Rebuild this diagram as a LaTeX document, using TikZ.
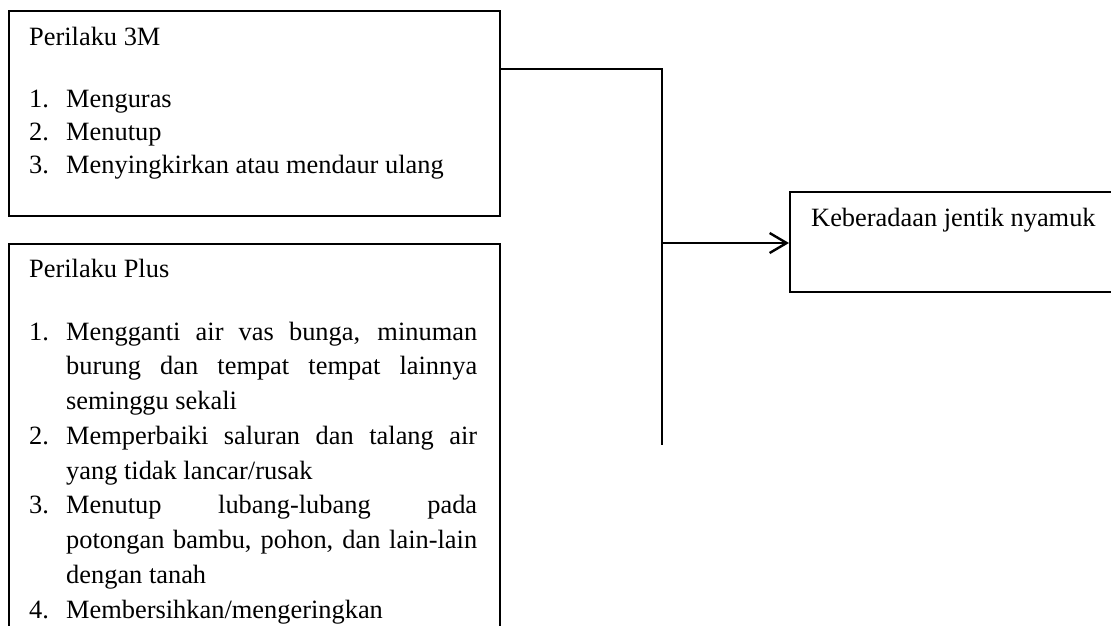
\documentclass[tikz,border=0pt]{standalone}
\usepackage{fontspec}
\setmainfont{Liberation Serif}
\usepackage{graphicx}
\usetikzlibrary{arrows.meta}
\tikzset{
  box/.style={draw=black, line width=1.5pt, inner sep=0pt, anchor=north west, fill=none},
  txt/.style={anchor=base west, inner sep=0pt, font=\fontsize{26.4}{33}\selectfont},
  conn/.style={draw=black, line width=1.8pt},
  arr/.style={draw=black, line width=2.6pt, -{Straight Barb[length=17pt,width=20pt,line width=2.4pt]}}
}
\newcommand{\numl}[2]{\makebox[37pt][l]{#1}\makebox[411pt][s]{#2}}
\newcommand{\numlast}[2]{\makebox[37pt][l]{#1}#2}
\newcommand{\contj}[1]{\hspace*{37pt}\makebox[411pt][s]{#1}}
\newcommand{\contlast}[1]{\hspace*{37pt}#1}
\begin{document}
\begin{tikzpicture}[x=1pt, y=-1pt]
\useasboundingbox (0,0) rectangle (1111,625);
\clip (0,0) rectangle (1111,625);
% boxes
\node[box, minimum width=491pt, minimum height=205pt] (b1) at (8,10) {};
\node[box, minimum width=491pt, minimum height=450pt] (b2) at (8,243) {};
\node[box, minimum width=360pt, minimum height=100pt] (b3) at (789,191) {};
% texts box 1
\node[txt] (t1) at (29,45) {Perilaku 3M};
\node[txt] (l1) at (29,107) {\parbox[t]{470pt}{\fontsize{26.4}{33}\selectfont
\numlast{1.}{Menguras}\\
\numlast{2.}{Menutup}\\
\numlast{3.}{Menyingkirkan atau mendaur ulang}}};
% texts box 2
\node[txt] (t2) at (29,277) {Perilaku Plus};
\node[txt] (l2) at (29,340) {\parbox[t]{470pt}{\fontsize{26.4}{34.75}\selectfont
\numl{1.}{Mengganti air vas bunga, minuman}\\
\contj{burung dan tempat tempat lainnya}\\
\contlast{seminggu sekali}\\
\numl{2.}{Memperbaiki saluran dan talang air}\\
\contlast{yang tidak lancar/rusak}\\
\numl{3.}{Menutup lubang-lubang pada}\\
\contj{potongan bambu, pohon, dan lain-lain}\\
\contlast{dengan tanah}\\
\numlast{4.}{Membersihkan/mengeringkan}}};
% text box 3
\node[txt] (t3) at (811,226) {Keberadaan jentik nyamuk};
% connectors
\coordinate (jt) at (662,69);
\coordinate (jb) at (662,445);
\coordinate (jm) at (662,243);
\draw[conn] (b1.east |- jt) -- (jt) -- (jb);
\draw[arr] (jm) -- (b3.west |- jm);
\end{tikzpicture}
\end{document}
